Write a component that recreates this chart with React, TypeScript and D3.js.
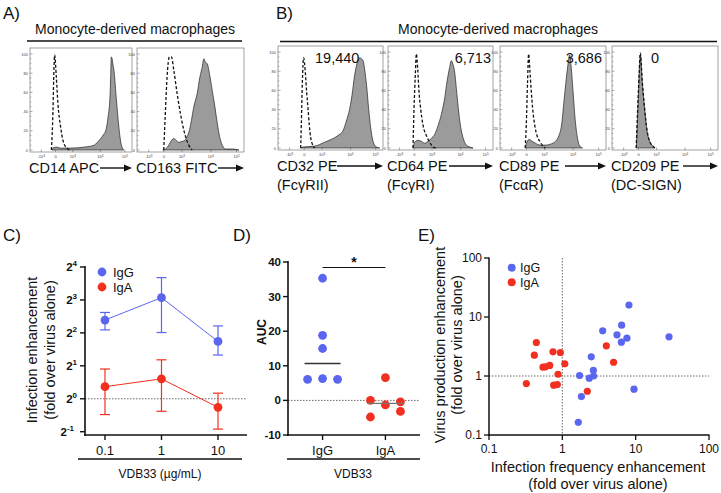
import React from 'react';
import * as d3 from 'd3';

const FONT = "'Liberation Sans', Arial, Helvetica, sans-serif";
const BLUE = '#5b66ef';
const RED = '#f1301f';

// ---------- Flow cytometry histograms (x in display channels 0-1000, y in % of max) ----------
const flowTickChannels = [110, 250, 420, 690, 930];
const flowTickBase = ['-10', '0', '10', '10', '10'];
const flowTickExp = ['3', '', '3', '4', '5'];
const flowYTicks = [0, 20, 40, 60, 80, 100];

const cd14Filled: [number, number][] = [[215,0],[225,2],[260,3],[300,2],[400,2],[532,3],[629,5],[661,8],[694,12],[720,16],[742,20],[765,34],[784,55],[792,80],[797,97],[803,96],[812,90],[823,83],[848,51],[871,24],[894,6],[919,0]];
const cd14Iso: [number, number][] = [[210,0],[225,40],[235,85],[242,99],[258,76],[274,48],[300,24],[323,10],[345,4],[355,3],[370,1],[387,0]];
const cd163Filled: [number, number][] = [[241,0],[266,1],[297,5],[322,10],[344,12],[366,10],[391,8],[422,9],[447,10],[469,14],[491,21],[509,31],[531,45],[563,59],[588,76],[609,86],[625,95],[641,91],[656,90],[678,79],[703,62],[728,45],[750,28],[772,14],[797,5],[828,1],[891,1],[953,0]];
const cd163Iso: [number, number][] = [[250,0],[266,41],[281,76],[303,97],[322,97],[344,83],[375,59],[406,38],[437,21],[469,9],[500,2],[516,0]];
const cd32Filled: [number, number][] = [[216,0],[238,1],[349,2],[444,6],[508,9],[571,13],[619,18],[651,28],[683,41],[705,55],[730,76],[756,89],[778,94],[794,93],[810,91],[825,82],[844,65],[863,41],[883,21],[905,7],[937,1],[968,0]];
const cd32Iso: [number, number][] = [[216,0],[222,24],[232,69],[244,94],[260,79],[273,58],[286,41],[298,24],[311,11],[327,4],[349,0]];
const cd64Filled: [number, number][] = [[238,0],[254,6],[286,8],[317,7],[349,5],[381,7],[413,10],[444,14],[476,23],[508,35],[540,52],[562,69],[587,84],[603,91],[619,87],[635,79],[651,62],[670,41],[689,24],[714,11],[746,3],[778,1],[810,0]];
const cd64Iso: [number, number][] = [[238,0],[248,41],[260,76],[270,98],[283,82],[295,59],[311,41],[333,24],[365,13],[397,6],[429,1],[454,0]];
const cd89Filled: [number, number][] = [[238,0],[254,6],[276,9],[302,7],[333,5],[381,3],[429,3],[476,4],[524,7],[556,13],[581,24],[603,48],[625,72],[644,89],[657,97],[670,86],[689,59],[708,31],[730,11],[752,2],[778,0]];
const cd89Iso: [number, number][] = [[238,0],[248,24],[260,69],[270,98],[283,79],[295,59],[308,41],[327,24],[349,13],[381,6],[413,1],[429,0]];
const cd209Filled: [number, number][] = [[230,0],[248,51],[258,80],[267,97],[286,67],[308,40],[330,18],[355,7],[387,2],[405,0]];
const cd209Iso: [number, number][] = [[228,0],[246,51],[257,80],[267,99],[286,69],[308,41],[330,19],[355,7],[387,2],[405,0]];

// ---------- Panel C ----------
const concentrations = [0.1, 1, 10];
const concLabels = ['0.1', '1', '10'];
const iggMean = [5.24, 8.4, 3.34];
const iggUpper = [6.15, 12.8, 4.63];
const iggLower = [4.26, 4.03, 2.51];
const igaMean = [1.29, 1.52, 0.835];
const igaUpper = [1.87, 2.27, 1.125];
const igaLower = [0.717, 0.768, 0.528];
const cYExponents = [-1, 0, 1, 2, 3, 4];

// ---------- Panel D ----------
const dCategories = ['IgG', 'IgA'];
const aucIgG = [35.3, 18.8, 15.0, 6.1, 6.3, 6.1];
const jitterIgG = [0, 0, 0, -1, 0, 1];
const aucIgA = [6.6, 0.0, -0.4, -1.3, -3.2, -4.8];
const jitterIgA = [0, -1, 1, 0, 1, -1];
const dYTicks = [-10, 0, 10, 20, 30, 40];

// ---------- Panel E ----------
const eIgGX = [8.1, 6.44, 3.55, 5.56, 7.6, 6.38, 28.5, 2.48, 2.65, 2.67, 2.33, 1.72, 1.82, 9.49, 1.65];
const eIgGY = [15.9, 7.28, 5.83, 4.99, 4.38, 3.75, 4.61, 2.11, 1.25, 1.0, 0.92, 1.02, 0.448, 0.597, 0.164];
const eIgAX = [0.442, 0.415, 0.746, 0.94, 3.98, 5.0, 1.08, 0.672, 0.586, 0.545, 0.873, 0.323, 0.762, 0.855, 2.19];
const eIgAY = [3.7, 2.25, 2.57, 2.5, 3.25, 1.71, 1.61, 1.51, 1.43, 1.41, 1.07, 0.745, 0.698, 0.716, 0.552];
const eTicks = [0.1, 1, 10, 100];
const eTickLabels = ['0.1', '1', '10', '100'];

type HistProps = {
  x: number; y: number; w: number; h: number;
  filled: [number, number][]; iso: [number, number][];
  label: string; label2?: string; arrowStart: number;
  count?: string; countX?: number; countAnchor?: string;
};

function Histogram(p: HistProps) {
  const xs = d3.scaleLinear().domain([0, 1000]).range([p.x, p.x + p.w]);
  const ys = d3.scaleLinear().domain([0, 100]).range([p.y + p.h - 2, p.y + 6]);
  const area = d3.area<[number, number]>().x(d => xs(d[0])).y0(ys(0)).y1(d => ys(d[1])).curve(d3.curveMonotoneX);
  const line = d3.line<[number, number]>().x(d => xs(d[0])).y(d => ys(d[1])).curve(d3.curveMonotoneX);
  const bottom = p.y + p.h;
  const arrowEnd = p.x + p.w;
  const minorY = d3.range(0, 101, 5);
  return (
    <g>
      <rect x={p.x} y={p.y} width={p.w} height={p.h} fill="#fff" stroke="#8a8a8a" strokeWidth={0.8} />
      <path d={area(p.filled) || ''} fill="#9b9b9b" stroke="#222" strokeWidth={0.7} />
      <path d={line(p.iso) || ''} fill="none" stroke="#111" strokeWidth={1.3} strokeDasharray="3,2" />
      {minorY.map(v => (
        <line key={'my' + v} x1={p.x} x2={p.x + (v % 20 === 0 ? 2.5 : 1.3)} y1={ys(v)} y2={ys(v)} stroke="#555" strokeWidth={0.5} />
      ))}
      {flowYTicks.map(v => (
        <text key={'yt' + v} x={p.x - 2} y={ys(v) + 1.5} fontSize={4} textAnchor="end" fill="#444" fontFamily={FONT}>{v}</text>
      ))}
      {flowTickChannels.map((c, i) => (
        <g key={'xt' + i}>
          <line x1={xs(c)} x2={xs(c)} y1={bottom} y2={bottom - 2.5} stroke="#555" strokeWidth={0.5} />
          <text x={xs(c)} y={bottom + 6} fontSize={4} textAnchor="middle" fill="#444" fontFamily={FONT}>
            {flowTickBase[i]}
            {flowTickExp[i] && <tspan dy={-1.5} fontSize={3}>{flowTickExp[i]}</tspan>}
          </text>
        </g>
      ))}
      <text x={p.x - 1} y={bottom + 21} fontSize={14.5} fontFamily={FONT} fill="#111">{p.label}</text>
      {p.label2 && <text x={p.x - 1} y={bottom + 40} fontSize={14.5} fontFamily={FONT} fill="#111">{p.label2}</text>}
      <line x1={p.arrowStart} x2={arrowEnd - 6} y1={bottom + 16} y2={bottom + 16} stroke="#111" strokeWidth={1.4} />
      <path d={`M${arrowEnd - 8},${bottom + 12.5} L${arrowEnd},${bottom + 16} L${arrowEnd - 8},${bottom + 19.5} Z`} fill="#111" />
      {p.count && (
        <text x={p.countX} y={p.y + 17} fontSize={14.5} textAnchor={p.countAnchor || 'start'} fontFamily={FONT} fill="#111">{p.count}</text>
      )}
    </g>
  );
}

function PanelC() {
  const xs = d3.scaleLog().domain([0.0443, 32.6]).range([85, 247]);
  const ys = d3.scaleLog().base(2).domain([Math.pow(2, -1.1), 16]).range([435, 267]);
  const line = d3.line<number>().x((_, i) => xs(concentrations[i])).y(d => ys(d));
  const series = [
    { mean: iggMean, up: iggUpper, lo: iggLower, color: BLUE },
    { mean: igaMean, up: igaUpper, lo: igaLower, color: RED },
  ];
  return (
    <g fontFamily={FONT}>
      <line x1={85} x2={247} y1={ys(1)} y2={ys(1)} stroke="#444" strokeWidth={0.8} strokeDasharray="1.5,1.5" />
      {series.map((s, si) => (
        <g key={si}>
          <path d={line(s.mean) || ''} fill="none" stroke={s.color} strokeWidth={1} />
          {s.mean.map((m, i) => {
            const cx = xs(concentrations[i]);
            return (
              <g key={i}>
                <line x1={cx} x2={cx} y1={ys(s.up[i])} y2={ys(s.lo[i])} stroke={s.color} strokeWidth={1.2} />
                <line x1={cx - 5} x2={cx + 5} y1={ys(s.up[i])} y2={ys(s.up[i])} stroke={s.color} strokeWidth={1.2} />
                <line x1={cx - 5} x2={cx + 5} y1={ys(s.lo[i])} y2={ys(s.lo[i])} stroke={s.color} strokeWidth={1.2} />
                <circle cx={cx} cy={ys(m)} r={4.4} fill={s.color} />
              </g>
            );
          })}
        </g>
      ))}
      <line x1={85} x2={85} y1={266} y2={436} stroke="#111" strokeWidth={1.6} />
      <line x1={84.2} x2={247} y1={435} y2={435} stroke="#111" strokeWidth={1.6} />
      {cYExponents.map(e => (
        <g key={e}>
          <line x1={80} x2={85} y1={ys(Math.pow(2, e))} y2={ys(Math.pow(2, e))} stroke="#111" strokeWidth={1.4} />
          <text x={e < 0 ? 74 : 77} y={ys(Math.pow(2, e)) + 4} fontSize={11.5} fontWeight="bold" textAnchor="end" fill="#111">
            2<tspan dy={-5} fontSize={8}>{e}</tspan>
          </text>
        </g>
      ))}
      {concentrations.map((c, i) => (
        <g key={c}>
          <line x1={xs(c)} x2={xs(c)} y1={435} y2={440} stroke="#111" strokeWidth={1.4} />
          <text x={xs(c)} y={455} fontSize={13} textAnchor="middle" fill="#111">{concLabels[i]}</text>
        </g>
      ))}
      <line x1={78} x2={242} y1={459} y2={459} stroke="#111" strokeWidth={1.5} />
      <text x={160} y={478} fontSize={12} textAnchor="middle" fill="#111">VDB33 (µg/mL)</text>
      <text transform="translate(37,350) rotate(-90)" fontSize={14.5} textAnchor="middle" fill="#111">Infection enhancement</text>
      <text transform="translate(55,350) rotate(-90)" fontSize={14.5} textAnchor="middle" fill="#111">(fold over virus alone)</text>
      <circle cx={102} cy={272} r={4.4} fill={BLUE} />
      <text x={113} y={276.5} fontSize={13} fill="#111">IgG</text>
      <circle cx={102} cy={287} r={4.4} fill={RED} />
      <text x={113} y={291.5} fontSize={13} fill="#111">IgA</text>
    </g>
  );
}

function PanelD() {
  const xs = d3.scalePoint().domain(dCategories).range([288, 420]).padding(0.55);
  const ys = d3.scaleLinear().domain([-10, 40]).range([435, 262]);
  const jit = 15;
  const groups = [
    { vals: aucIgG, jit: jitterIgG, color: BLUE, cat: 'IgG', lineColor: '#333' },
    { vals: aucIgA, jit: jitterIgA, color: RED, cat: 'IgA', lineColor: '#777' },
  ];
  return (
    <g fontFamily={FONT}>
      <line x1={288} x2={420} y1={ys(0)} y2={ys(0)} stroke="#444" strokeWidth={0.8} strokeDasharray="1.5,1.5" />
      {groups.map(g => {
        const cx = xs(g.cat)!;
        const med = d3.median(g.vals)!;
        return (
          <g key={g.cat}>
            {g.vals.map((v, i) => (
              <circle key={i} cx={cx + g.jit[i] * jit} cy={ys(v)} r={4.4} fill={g.color} />
            ))}
            <line x1={cx - 18} x2={cx + 18} y1={ys(med)} y2={ys(med)} stroke={g.lineColor} strokeWidth={1.4} />
          </g>
        );
      })}
      <line x1={288} x2={288} y1={261} y2={436} stroke="#111" strokeWidth={1.6} />
      <line x1={287.2} x2={420} y1={435} y2={435} stroke="#111" strokeWidth={1.6} />
      {dYTicks.map(t => (
        <g key={t}>
          <line x1={283} x2={288} y1={ys(t)} y2={ys(t)} stroke="#111" strokeWidth={1.4} />
          <text x={281} y={ys(t) + 4} fontSize={11.5} fontWeight="bold" textAnchor="end" fill="#111">{t === -10 ? '-10' : t}</text>
        </g>
      ))}
      {dCategories.map(c => (
        <g key={c}>
          <line x1={xs(c)!} x2={xs(c)!} y1={435} y2={440} stroke="#111" strokeWidth={1.4} />
          <text x={xs(c)!} y={455} fontSize={13} textAnchor="middle" fill="#111">{c}</text>
        </g>
      ))}
      <line x1={287} x2={420} y1={459} y2={459} stroke="#111" strokeWidth={1.5} />
      <text x={353} y={478} fontSize={12} textAnchor="middle" fill="#111">VDB33</text>
      <text transform="translate(266,332) rotate(-90)" fontSize={12} fontWeight="bold" textAnchor="middle" fill="#111">AUC</text>
      <line x1={xs('IgG')!} x2={xs('IgA')!} y1={267.5} y2={267.5} stroke="#111" strokeWidth={1.2} />
      <text x={(xs('IgG')! + xs('IgA')!) / 2} y={267} fontSize={14} fontWeight="bold" textAnchor="middle" fill="#111">*</text>
    </g>
  );
}

function PanelE() {
  const xs = d3.scaleLog().domain([0.1, 100]).range([489, 709]);
  const ys = d3.scaleLog().domain([0.1, 100]).range([435, 258]);
  return (
    <g fontFamily={FONT}>
      <line x1={xs(1)} x2={xs(1)} y1={258} y2={435} stroke="#444" strokeWidth={0.8} strokeDasharray="1.5,1.5" />
      <line x1={489} x2={709} y1={ys(1)} y2={ys(1)} stroke="#444" strokeWidth={0.8} strokeDasharray="1.5,1.5" />
      {eIgAX.map((v, i) => (
        <circle key={'a' + i} cx={xs(v)} cy={ys(eIgAY[i])} r={3.6} fill={RED} />
      ))}
      {eIgGX.map((v, i) => (
        <circle key={'g' + i} cx={xs(v)} cy={ys(eIgGY[i])} r={3.6} fill={BLUE} />
      ))}
      <line x1={489} x2={489} y1={257.5} y2={436} stroke="#111" strokeWidth={1.5} />
      <line x1={488.2} x2={709.5} y1={435} y2={435} stroke="#111" strokeWidth={1.5} />
      {eTicks.map((t, i) => (
        <g key={t}>
          <line x1={484} x2={489} y1={ys(t)} y2={ys(t)} stroke="#111" strokeWidth={1.3} />
          <text x={482} y={ys(t) + 4} fontSize={12} textAnchor="end" fill="#111">{eTickLabels[i]}</text>
          <line x1={xs(t)} x2={xs(t)} y1={435} y2={440} stroke="#111" strokeWidth={1.3} />
          <text x={xs(t)} y={453} fontSize={12} textAnchor="middle" fill="#111">{eTickLabels[i]}</text>
        </g>
      ))}
      <text x={598} y={472} fontSize={14.5} textAnchor="middle" fill="#111">Infection frequency enhancement</text>
      <text x={598} y={489} fontSize={14.5} textAnchor="middle" fill="#111">(fold over virus alone)</text>
      <text transform="translate(445,345) rotate(-90)" fontSize={14.5} textAnchor="middle" fill="#111">Virus production enhancement</text>
      <text transform="translate(462,345) rotate(-90)" fontSize={14.5} textAnchor="middle" fill="#111">(fold over virus alone)</text>
      <circle cx={511.7} cy={267.7} r={4} fill={BLUE} />
      <text x={520} y={272} fontSize={12.5} fill="#111">IgG</text>
      <circle cx={511.7} cy={282.3} r={4} fill={RED} />
      <text x={520} y={286.6} fontSize={12.5} fill="#111">IgA</text>
    </g>
  );
}

export default function App() {
  return (
    <svg width={721} height={493} viewBox="0 0 721 493" style={{ position: 'absolute', left: 0, top: 0, background: '#fff' }} fontFamily={FONT}>
      <rect width={721} height={493} fill="#fff" />
      <text x={3} y={19} fontSize={17} fill="#111">A)</text>
      <text x={276} y={19} fontSize={17} fill="#111">B)</text>
      <text x={3} y={241} fontSize={17} fill="#111">C)</text>
      <text x={233} y={241} fontSize={17} fill="#111">D)</text>
      <text x={418} y={241} fontSize={17} fill="#111">E)</text>

      <text x={135} y={34} fontSize={14} textAnchor="middle" fill="#111">Monocyte-derived macrophages</text>
      <line x1={27} x2={242} y1={41} y2={41} stroke="#111" strokeWidth={1.5} />
      <text x={498} y={34} fontSize={14} textAnchor="middle" fill="#111">Monocyte-derived macrophages</text>
      <line x1={280} x2={717} y1={41.5} y2={41.5} stroke="#111" strokeWidth={1.5} />

      <Histogram x={30} y={48} w={102} h={104} filled={cd14Filled} iso={cd14Iso} label="CD14 APC" arrowStart={100} />
      <Histogram x={137} y={48} w={107} h={104} filled={cd163Filled} iso={cd163Iso} label="CD163 FITC" arrowStart={218} />
      <Histogram x={278} y={46} w={105} h={104} filled={cd32Filled} iso={cd32Iso} label="CD32 PE" label2="(FcγRII)" arrowStart={337} count="19,440" countX={315} />
      <Histogram x={388} y={46} w={105} h={104} filled={cd64Filled} iso={cd64Iso} label="CD64 PE" label2="(FcγRI)" arrowStart={449} count="6,713" countX={491} countAnchor="end" />
      <Histogram x={500} y={46} w={106} h={104} filled={cd89Filled} iso={cd89Iso} label="CD89 PE" label2="(FcαR)" arrowStart={565} count="3,686" countX={602} countAnchor="end" />
      <Histogram x={612} y={46} w={106} h={104} filled={cd209Filled} iso={cd209Iso} label="CD209 PE" label2="(DC-SIGN)" arrowStart={683} count="0" countX={651} />

      <PanelC />
      <PanelD />
      <PanelE />
    </svg>
  );
}
